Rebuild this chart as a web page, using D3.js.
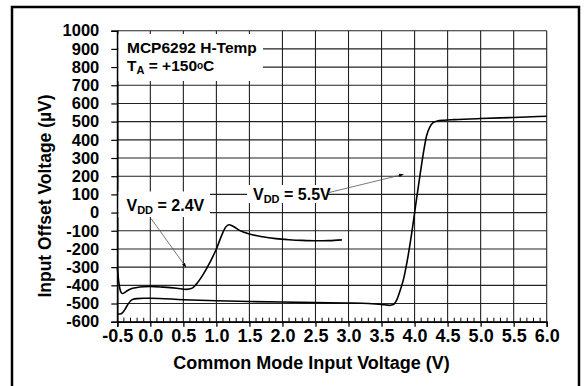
<!DOCTYPE html>
<html><head><meta charset="utf-8">
<script src="https://cdn.jsdelivr.net/npm/d3@7"></script>
<style>
html,body{margin:0;padding:0;background:#fff;}
svg{display:block;}
text{font-family:"Liberation Sans",Arial,sans-serif;font-weight:bold;fill:#000;}
</style></head>
<body>
<svg id="chart" width="586" height="386"></svg>
<script>
// ---- data ----
const xTicks = [-0.5,0.0,0.5,1.0,1.5,2.0,2.5,3.0,3.5,4.0,4.5,5.0,5.5,6.0];
const yTicks = [-600,-500,-400,-300,-200,-100,0,100,200,300,400,500,600,700,800,900,1000];
const vdd24X = [-0.5,-0.48,-0.46,-0.44,-0.42,-0.39,-0.35,-0.3,-0.2,-0.1,0.0,0.2,0.4,0.55,0.62,0.7,0.8,0.9,1.0,1.08,1.14,1.19,1.25,1.35,1.5,1.7,1.9,2.1,2.3,2.5,2.7,2.9];
const vdd24Y = [-300,-375,-420,-440,-445,-440,-430,-420,-412,-408,-406,-410,-416,-422,-418,-392,-340,-275,-200,-125,-80,-67,-75,-98,-118,-133,-143,-149,-153,-155,-154,-150];
const vdd55X = [-0.5,-0.46,-0.42,-0.38,-0.34,-0.3,-0.26,-0.2,-0.1,0.0,0.5,1.0,1.5,2.0,2.5,3.0,3.3,3.5,3.62,3.68,3.73,3.78,3.83,3.9,3.97,4.02,4.08,4.13,4.18,4.23,4.28,4.34,4.45,4.6,5.0,5.5,6.0];
const vdd55Y = [-556,-558,-550,-530,-505,-486,-477,-473,-471,-471,-479,-485,-489,-492,-495,-497,-500,-505,-510,-506,-480,-430,-370,-242,-80,50,200,320,420,470,494,503,508,511,517,523,530];

const W = 586, H = 386;
const svg = d3.select("#chart");
const x = d3.scaleLinear().domain([-0.5,6.0]).range([117.3,546.7]);
const y = d3.scaleLinear().domain([-600,1000]).range([321.7,30.7]);

// outer frame
svg.append("rect").attr("x",12).attr("y",7).attr("width",567).attr("height",400)
  .attr("fill","none").attr("stroke","#000").attr("stroke-width",2.5);

const g = svg.append("g");
// grid
g.selectAll("line.vg").data(xTicks).join("line").attr("class","vg")
  .attr("x1",d=>x(d)).attr("x2",d=>x(d)).attr("y1",y(1000)).attr("y2",y(-600))
  .attr("stroke","#222").attr("stroke-width",1.1);
g.selectAll("line.hg").data(yTicks).join("line").attr("class","hg")
  .attr("x1",x(-0.5)).attr("x2",x(6.0)).attr("y1",d=>y(d)).attr("y2",d=>y(d))
  .attr("stroke","#222").attr("stroke-width",1.1);

// x axis (major ticks below)
const xAxis = d3.axisBottom(x).tickValues(xTicks).tickSize(5).tickFormat(d=>d.toFixed(1));
const xa = g.append("g").attr("transform",`translate(0,${y(-600)})`).call(xAxis);
xa.select(".domain").attr("stroke","#000").attr("stroke-width",1.6);
xa.selectAll(".tick line").attr("stroke","#000").attr("stroke-width",1.3);
xa.selectAll(".tick text").attr("font-size",18).attr("y",8).attr("dy","0.71em")
  .style("font-family","Liberation Sans, Arial, sans-serif").style("font-weight","bold");
// minor ticks inside
const minor = d3.range(-5,61).map(i=>i/10).filter(v=>Math.abs(v*2-Math.round(v*2))>1e-6);
g.selectAll("line.mt").data(minor).join("line").attr("class","mt")
  .attr("x1",d=>x(d)).attr("x2",d=>x(d)).attr("y1",y(-600)).attr("y2",y(-600)-4)
  .attr("stroke","#000").attr("stroke-width",1);

// y axis
const yAxis = d3.axisLeft(y).tickValues(yTicks).tickSize(6).tickPadding(12).tickFormat(d=>String(d));
const ya = g.append("g").attr("transform",`translate(${x(-0.5)},0)`).call(yAxis);
ya.select(".domain").attr("stroke","#000").attr("stroke-width",1.6);
ya.selectAll(".tick line").attr("stroke","#000").attr("stroke-width",1.2);
ya.selectAll(".tick text").attr("font-size",16.5)
  .style("font-family","Liberation Sans, Arial, sans-serif").style("font-weight","bold");

// curves
const line = d3.line().x(d=>x(d[0])).y(d=>y(d[1])).curve(d3.curveMonotoneX);
g.append("path").datum(d3.zip(vdd24X,vdd24Y)).attr("d",line)
  .attr("fill","none").attr("stroke","#000").attr("stroke-width",1.6);
g.append("path").datum(d3.zip(vdd55X,vdd55Y)).attr("d",line)
  .attr("fill","none").attr("stroke","#000").attr("stroke-width",1.6);

// label boxes
function box(x0,y0,x1,y1){
  g.append("rect").attr("x",x0).attr("y",y0).attr("width",x1-x0).attr("height",y1-y0).attr("fill","#fff");
}
box(118.5,34,263,81);
box(118.5,191.5,210,217);
box(247,185,328,203);

// annotation text
const t1 = g.append("text").attr("x",127).attr("y",53.3).attr("font-size",15.5).text("MCP6292 H-Temp");
const t2 = g.append("text").attr("x",127).attr("y",71).attr("font-size",15.5);
t2.append("tspan").text("T");
t2.append("tspan").attr("font-size",11).attr("dy",3).text("A");
t2.append("tspan").attr("dy",-3).text(" = +150");
t2.append("tspan").attr("font-size",10).attr("dy",-2).text("o");
t2.append("tspan").attr("dy",2).text("C");

function vdd(xp,yp,val){
  const t = g.append("text").attr("x",xp).attr("y",yp).attr("font-size",16);
  t.append("tspan").text("V");
  t.append("tspan").attr("font-size",11).attr("dy",3).text("DD");
  t.append("tspan").attr("dy",-3).text(" = "+val);
}
vdd(126.5,211,"2.4V");
vdd(253,200,"5.5V");

// arrows
const defs = svg.append("defs");
defs.append("marker").attr("id","ah").attr("viewBox","0 0 10 10").attr("refX",9).attr("refY",5)
  .attr("markerWidth",6).attr("markerHeight",6).attr("orient","auto")
  .append("path").attr("d","M0,1.5 L10,5 L0,8.5 Z").attr("fill","#000");
function arrow(a,b){
  g.append("line").attr("x1",x(a[0])).attr("y1",y(a[1])).attr("x2",x(b[0])).attr("y2",y(b[1]))
    .attr("stroke","#555").attr("stroke-width",0.8).attr("marker-end","url(#ah)");
}
arrow([0.01,-32],[0.54,-300]);
arrow([2.69,109],[3.83,210]);

// axis titles
svg.append("text").attr("x",311.5).attr("y",368.5).attr("text-anchor","middle").attr("font-size",18)
  .text("Common Mode Input Voltage (V)");
svg.append("text").attr("transform","translate(50.7,196) rotate(-90)").attr("text-anchor","middle")
  .attr("font-size",17.5).text("Input Offset Voltage (µV)");
</script>
</body></html>
